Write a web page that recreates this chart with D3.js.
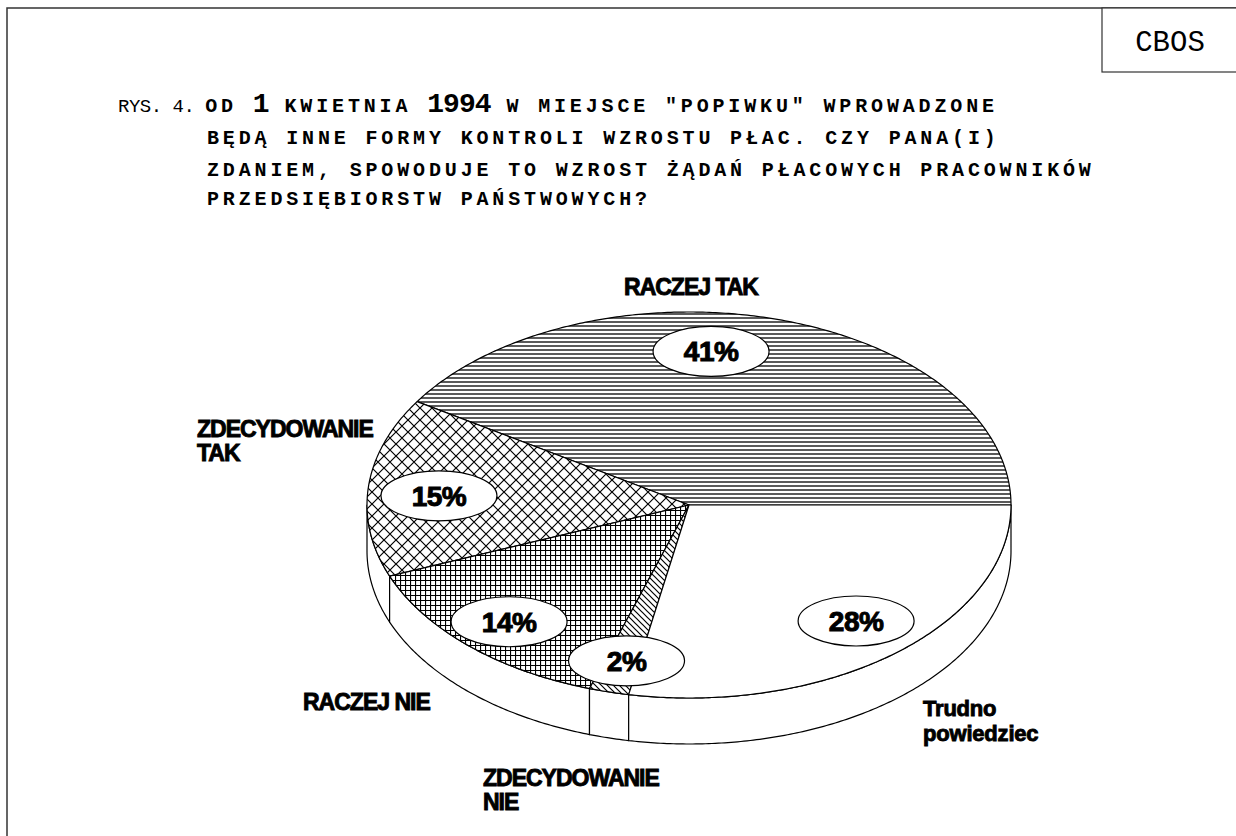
<html>
<head>
<meta charset="utf-8">
<script src="https://d3js.org/d3.v7.min.js"></script>
<style>
  body { margin: 0; background: white; }
  svg { display: block; }
  .mono { font-family: "Courier New", "Liberation Mono", monospace; }
  .heavy { font-family: "Liberation Sans", Arial, sans-serif; font-weight: bold; }
</style>
</head>
<body>
<svg width="1236" height="836"></svg>
<script>
// answers and shares (%)
var categories = ["RACZEJ TAK", "ZDECYDOWANIE TAK", "RACZEJ NIE", "ZDECYDOWANIE NIE", "Trudno powiedziec"];
var values = [41, 15, 14, 2, 28];
var valueLabels = ["41%", "15%", "14%", "2%", "28%"];
var categoryLines = [["RACZEJ TAK"], ["ZDECYDOWANIE", "TAK"], ["RACZEJ NIE"], ["ZDECYDOWANIE", "NIE"], ["Trudno", "powiedziec"]];

var width = 1236, height = 836;
var cx = 689, cy = 505, rx = 322, ry = 193, depth = 46;

var svg = d3.select("svg");

// ---- hatch patterns ----
var defs = svg.append("defs");
function pattern(id, w, h, d, sw) {
    var p = defs.append("pattern").attr("id", id)
        .attr("patternUnits", "userSpaceOnUse")
        .attr("width", w).attr("height", h);
    p.append("rect").attr("width", w).attr("height", h).attr("fill", "white");
    p.append("path").attr("d", d).attr("stroke", "black")
        .attr("stroke-width", sw).attr("fill", "none");
}
pattern("hlines", 8, 4, "M-1,2H9", 1.3);
pattern("diamond", 12, 12, "M0,0L12,12M12,0L0,12", 1.2);
pattern("grid", 5, 5, "M0,0.5H5M0.5,0V5", 1.2);
pattern("diag", 6, 6, "M0,0L6,6M-1,5L1,7M5,-1L7,1", 1.2);
var fills = ["url(#hlines)", "url(#diamond)", "url(#grid)", "url(#diag)", "white"];

// ---- frame ----
svg.append("path").attr("d", "M7,836V8H1236")
    .attr("fill", "none").attr("stroke", "#333").attr("stroke-width", 1.5);
svg.append("rect").attr("x", 1102).attr("y", 8).attr("width", 150).attr("height", 64)
    .attr("fill", "white").attr("stroke", "#333").attr("stroke-width", 1.2);
svg.append("text").attr("class", "mono").attr("x", 1170).attr("y", 51)
    .attr("text-anchor", "middle").attr("font-size", 29).text("CBOS");

// ---- title ----
var pitch = 15.85;
function tline(y, x, parts) {
    var t = svg.append("text").attr("class", "mono").attr("x", x).attr("y", y);
    parts.forEach(function(p) {
        var fs = p[1];
        t.append("tspan")
            .attr("font-size", fs)
            .attr("font-weight", p[2] ? "bold" : "normal")
            .style("letter-spacing", (p[3] !== undefined ? p[3] : pitch - 0.6 * fs) + "px")
            .text(p[0]);
    });
}
tline(112, 118, [["RYS. 4. ", 19, false, -0.5], ["OD ", 20, true], ["1", 28, true], [" KWIETNIA ", 20, true],
                 ["1994", 28, true], [" W MIEJSCE \"POPIWKU\" WPROWADZONE", 20, true]]);
tline(144, 207, [["BĘDĄ INNE FORMY KONTROLI WZROSTU PŁAC. CZY PANA(I)", 20, true]]);
tline(176, 207, [["ZDANIEM, SPOWODUJE TO WZROST ŻĄDAŃ PŁACOWYCH PRACOWNIKÓW", 20, true]]);
tline(205, 207, [["PRZEDSIĘBIORSTW PAŃSTWOWYCH?", 20, true]]);

// ---- pie layout: starts at 3 o'clock, runs counter-clockwise ----
var pie = d3.pie().sort(null).value(function(d) { return d; })
    .startAngle(Math.PI / 2).endAngle(Math.PI / 2 - 2 * Math.PI);
var arcs = pie(values);

function pt(a, dy) {
    return [cx + rx * Math.sin(a), cy - ry * Math.cos(a) + (dy || 0)];
}
function arcPoints(a0, a1, dy) {
    var n = Math.max(2, Math.ceil(Math.abs(a1 - a0) / 0.01));
    return d3.range(n + 1).map(function(i) { return pt(a0 + (a1 - a0) * i / n, dy); });
}
var line = d3.line();

// side wall (front half only)
var lo = -1.5 * Math.PI, hi = -0.5 * Math.PI;
var side = svg.append("g");
arcs.forEach(function(a) {
    var s = Math.min(a.startAngle, hi), e = Math.max(a.endAngle, lo);
    if (s <= e) return;
    var pts = arcPoints(s, e, 0).concat(arcPoints(e, s, depth));
    side.append("path").attr("d", line(pts) + "Z")
        .attr("fill", "white").attr("stroke", "black").attr("stroke-width", 1.2)
        .attr("stroke-linejoin", "round");
});

// top face
svg.append("g").selectAll("path")
    .data(arcs)
    .enter()
    .append("path")
    .attr("d", function(a) {
        return line([[cx, cy]].concat(arcPoints(a.startAngle, a.endAngle, 0))) + "Z";
    })
    .attr("fill", function(a, i) { return fills[i]; })
    .attr("stroke", "black")
    .attr("stroke-width", 1.2)
    .attr("stroke-linejoin", "round");

// value labels in white ovals
var labelRadius = 0.78;
var labelNudge = [[-48, -9], [0, 5], [-8, 7], [0, 10], [7, 0]];
var lab = svg.append("g").selectAll("g")
    .data(arcs)
    .enter()
    .append("g")
    .attr("transform", function(a, i) {
        var m = (a.startAngle + a.endAngle) / 2;
        var x = cx + labelRadius * rx * Math.sin(m) + labelNudge[i][0];
        var y = cy - labelRadius * ry * Math.cos(m) + labelNudge[i][1];
        return "translate(" + x + "," + y + ")";
    });
lab.append("ellipse").attr("rx", 58).attr("ry", 25)
    .attr("fill", "white").attr("stroke", "black").attr("stroke-width", 1.2);
lab.append("text").attr("class", "heavy")
    .attr("text-anchor", "middle").attr("y", 10)
    .attr("font-size", 28)
    .attr("stroke", "black").attr("stroke-width", 1)
    .style("letter-spacing", "-0.5px")
    .text(function(a, i) { return valueLabels[i]; });

// category names
var catPos = [[691, 295, "middle"], [197, 437, "start"], [303, 710, "start"], [483, 786, "start"], [923, 716, "start"]];
var catSize = [23, 23, 23, 23, 22];
var catGap = [24, 24, 24, 24, 25];
categoryLines.forEach(function(lines, i) {
    var t = svg.append("text").attr("class", "heavy")
        .attr("x", catPos[i][0]).attr("y", catPos[i][1])
        .attr("text-anchor", catPos[i][2])
        .attr("font-size", catSize[i])
        .attr("stroke", "black").attr("stroke-width", 0.9)
        .style("letter-spacing", i == 4 ? "-0.2px" : "-1px");
    lines.forEach(function(l, j) {
        t.append("tspan").attr("x", catPos[i][0]).attr("y", catPos[i][1] + j * catGap[i]).text(l);
    });
});
</script>
</body>
</html>
